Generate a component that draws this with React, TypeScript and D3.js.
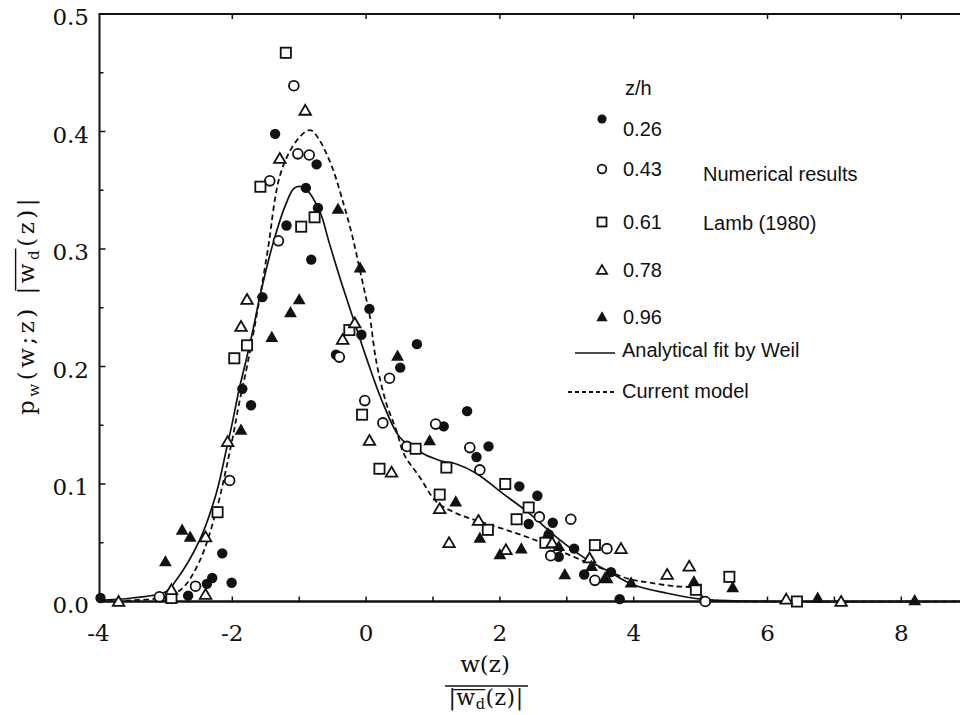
import React from "react";
import * as d3 from "d3";

// z/h levels of the numerical results (Lamb 1980)
const seriesNames = ["0.26", "0.43", "0.61", "0.78", "0.96"];

const zh026: [number, number][] = [
  [-3.97, 0.003], [-2.66, 0.005], [-2.38, 0.015], [-2.3, 0.02], [-2.15, 0.041], [-2.01, 0.016],
  [-1.85, 0.181], [-1.72, 0.167], [-1.55, 0.259], [-1.36, 0.398], [-1.19, 0.32], [-0.9, 0.352],
  [-0.82, 0.291], [-0.74, 0.372], [-0.72, 0.335], [-0.45, 0.21], [-0.07, 0.227], [0.05, 0.249],
  [0.51, 0.199], [0.76, 0.219], [1.16, 0.149], [1.51, 0.162], [1.65, 0.123], [1.83, 0.132],
  [2.29, 0.098], [2.43, 0.066], [2.56, 0.09], [2.73, 0.057], [2.79, 0.067], [2.88, 0.038],
  [3.11, 0.045], [3.26, 0.023], [3.66, 0.025], [3.79, 0.002],
];

const zh043: [number, number][] = [
  [-3.09, 0.004], [-2.55, 0.013], [-2.04, 0.103], [-1.44, 0.358], [-1.31, 0.307], [-1.08, 0.439],
  [-1.02, 0.381], [-0.85, 0.38], [-0.4, 0.208], [-0.02, 0.171], [0.25, 0.152], [0.35, 0.19],
  [0.61, 0.132], [1.04, 0.151], [1.55, 0.131], [1.7, 0.112], [2.59, 0.072], [2.76, 0.039],
  [3.06, 0.07], [3.42, 0.018], [3.6, 0.045], [5.07, 0.0],
];

const zh061: [number, number][] = [
  [-2.91, 0.003], [-2.22, 0.076], [-1.97, 0.207], [-1.78, 0.218], [-1.58, 0.353], [-1.2, 0.467],
  [-0.97, 0.319], [-0.77, 0.327], [-0.25, 0.231], [-0.06, 0.159], [0.2, 0.113], [0.74, 0.13],
  [1.1, 0.091], [1.2, 0.114], [1.82, 0.061], [2.08, 0.1], [2.25, 0.07], [2.43, 0.08],
  [2.68, 0.05], [3.42, 0.048], [4.93, 0.01], [5.43, 0.021], [6.44, 0.0],
];

const zh078: [number, number][] = [
  [-3.7, 0.0], [-2.91, 0.01], [-2.4, 0.006], [-2.4, 0.055], [-2.07, 0.136], [-1.87, 0.234],
  [-1.78, 0.257], [-1.29, 0.377], [-0.91, 0.418], [-0.35, 0.223], [-0.17, 0.237], [0.05, 0.137],
  [0.38, 0.11], [1.1, 0.079], [1.24, 0.05], [1.68, 0.069], [2.09, 0.044], [2.78, 0.05],
  [3.34, 0.037], [3.59, 0.02], [3.81, 0.045], [4.5, 0.023], [4.83, 0.03], [6.28, 0.002], [7.1, 0.0],
];

const zh096: [number, number][] = [
  [-3.0, 0.034], [-2.75, 0.061], [-2.63, 0.055], [-1.87, 0.146], [-1.41, 0.225], [-1.13, 0.246],
  [-1.0, 0.257], [-0.42, 0.334], [-0.09, 0.284], [0.47, 0.209], [0.95, 0.137], [1.34, 0.085],
  [1.7, 0.054], [2.0, 0.04], [2.32, 0.045], [2.72, 0.058], [2.88, 0.047], [2.97, 0.023],
  [3.37, 0.03], [3.57, 0.02], [3.96, 0.016], [4.9, 0.017], [5.48, 0.012], [6.75, 0.003], [8.2, 0.001],
];

// Analytical fit by Weil
const weilFit: [number, number][] = [
  [-4, 0.001], [-3.5, 0.003], [-3.0, 0.008], [-2.84, 0.018], [-2.49, 0.052], [-2.24, 0.092],
  [-2.09, 0.129], [-2.0, 0.152], [-1.9, 0.18], [-1.77, 0.211], [-1.68, 0.234], [-1.59, 0.259],
  [-1.39, 0.305], [-1.2, 0.338], [-1.07, 0.352], [-0.92, 0.352], [-0.7, 0.333], [-0.55, 0.305],
  [-0.35, 0.268], [-0.17, 0.237], [0.0, 0.208], [0.25, 0.169], [0.5, 0.14], [0.75, 0.129],
  [1.1, 0.12], [1.35, 0.117], [1.65, 0.109], [2.04, 0.092], [2.44, 0.075], [2.84, 0.055],
  [3.24, 0.038], [3.64, 0.025], [4.0, 0.014], [4.5, 0.007], [5.0, 0.002], [5.5, 0.0005],
  [6.0, 0.0], [8.9, 0.0],
];

// Current model
const currentModel: [number, number][] = [
  [-4, 0.0], [-3.5, 0.001], [-3.0, 0.004], [-2.75, 0.011], [-2.5, 0.033], [-2.25, 0.075],
  [-2.0, 0.138], [-1.9, 0.168], [-1.77, 0.203], [-1.6, 0.255], [-1.47, 0.299], [-1.29, 0.362],
  [-1.09, 0.388], [-0.9, 0.4], [-0.82, 0.401], [-0.7, 0.393], [-0.51, 0.37], [-0.33, 0.337],
  [-0.21, 0.312], [-0.1, 0.284], [0.0, 0.258], [0.05, 0.245], [0.15, 0.205], [0.3, 0.169],
  [0.45, 0.146], [0.57, 0.125], [0.8, 0.106], [1.05, 0.085], [1.35, 0.075], [1.7, 0.068],
  [2.09, 0.061], [2.54, 0.052], [2.94, 0.042], [3.44, 0.03], [3.94, 0.019], [4.24, 0.016],
  [4.6, 0.013], [4.93, 0.011], [5.05, 0.003], [5.2, 0.001], [6.0, 0.0], [8.9, 0.0],
];

const xTickValues = [-4, -2, 0, 2, 4, 6, 8];
const xTickLabels = ["-4", "-2", "0", "2", "4", "6", "8"];
const yTickValues = [0, 0.1, 0.2, 0.3, 0.4, 0.5];
const yTickLabels = ["0.0", "0.1", "0.2", "0.3", "0.4", "0.5"];
const legendHeading = "z/h";
const sourceNote = ["Numerical results", "Lamb (1980)"];
const curveNames = ["Analytical fit by Weil", "Current model"];

const SERIF = "'DejaVu Serif', serif";
const SANS = "'Liberation Sans', Arial, sans-serif";
const INK = "#111";

type Shape = "dot" | "ring" | "square" | "tri" | "triFill";
const shapes: Shape[] = ["dot", "ring", "square", "tri", "triFill"];
const seriesData = [zh026, zh043, zh061, zh078, zh096];

const W = 960;
const H = 715;
const x = d3.scaleLinear().domain([-4, 8.9]).range([98.5, 98.5 + 12.9 * 66.9]);
const y = d3.scaleLinear().domain([0, 0.5]).range([601.5, 14]);

let measureCtx: CanvasRenderingContext2D | null = null;
function textWidth(t: string, size: number, family: string) {
  if (!measureCtx) measureCtx = document.createElement("canvas").getContext("2d");
  if (!measureCtx) return t.length * size * 0.6;
  measureCtx.font = `${size}px ${family}`;
  return measureCtx.measureText(t).width;
}

type Run = { t: string; sub?: boolean; over?: boolean };

// A line of math-like text: runs with subscripts and an overline that starts at a bar
function RichText({ runs, cx, cy, rotate = 0, size, spacing = 0, overAt = 0.8 }: {
  runs: Run[]; cx: number; cy: number; rotate?: number; size: number; spacing?: number; overAt?: number;
}) {
  const subSize = size * 0.66;
  let pos = 0;
  const placed = runs.map((r) => {
    const s = r.sub ? subSize : size;
    const w = textWidth(r.t, s, SERIF) + spacing * r.t.length;
    const item = { ...r, s, x0: pos, w };
    pos += w;
    return item;
  });
  const total = pos;
  const overs = placed.filter((p) => p.over);
  let overline: React.ReactNode = null;
  if (overs.length) {
    const first = overs[0];
    const idx = placed.indexOf(first);
    const bar = idx > 0 ? placed[idx - 1] : first;
    const x1 = bar.x0 + (bar.w - spacing) * 0.5 - total / 2;
    const last = overs[overs.length - 1];
    const x2 = last.x0 + last.w - spacing * 0.5 - total / 2;
    overline = (
      <line x1={x1} x2={x2} y1={-size * overAt} y2={-size * overAt} stroke={INK} strokeWidth={1.4} />
    );
  }
  return (
    <g transform={`translate(${cx},${cy}) rotate(${rotate})`}>
      {placed.map((p, i) => (
        <text
          key={i}
          x={p.x0 - total / 2}
          y={p.sub ? size * 0.2 : 0}
          fontFamily={SERIF}
          fontSize={p.s}
          letterSpacing={spacing}
          fill={INK}
          style={{ whiteSpace: "pre" }}
        >
          {p.t}
        </text>
      ))}
      {overline}
    </g>
  );
}

function Marker({ shape, cx, cy, s = 1 }: { shape: Shape; cx: number; cy: number; s?: number }) {
  const sw = 1.8;
  switch (shape) {
    case "dot":
      return <circle cx={cx} cy={cy} r={5.2 * s} fill={INK} />;
    case "ring":
      return <circle cx={cx} cy={cy} r={4.9 * s} fill="white" stroke={INK} strokeWidth={sw} />;
    case "square": {
      const h = 5.1 * s;
      return <rect x={cx - h} y={cy - h} width={2 * h} height={2 * h} fill="white" stroke={INK} strokeWidth={sw} />;
    }
    case "tri": {
      const h = 5.5 * s;
      return (
        <polygon
          points={`${cx},${cy - h} ${cx + h * 1.05},${cy + h * 0.8} ${cx - h * 1.05},${cy + h * 0.8}`}
          fill="white" stroke={INK} strokeWidth={sw} strokeLinejoin="miter"
        />
      );
    }
    case "triFill": {
      const h = 6.4 * s;
      return (
        <polygon
          points={`${cx},${cy - h} ${cx + h},${cy + h * 0.75} ${cx - h},${cy + h * 0.75}`}
          fill={INK}
        />
      );
    }
  }
  return null;
}

export default function App() {
  const line = d3
    .line<[number, number]>()
    .x((d) => x(d[0]))
    .y((d) => y(d[1]))
    .curve(d3.curveCatmullRom.alpha(0.5));

  const x0 = x(-4) + 1;
  const yBase = y(0);
  const yTop = y(0.5);
  const minorY = d3.range(0.05, 0.5, 0.05);
  const minorX = d3.range(-3, 9, 1);
  const topX = [-2, 0, 2, 4, 6, 8];

  const legendRowsY = [119, 169, 222, 270, 317];
  const legendTextY = [136, 176, 229, 277, 324];

  return (
    <svg
      width={W}
      height={H}
      viewBox={`0 0 ${W} ${H}`}
      style={{ position: "absolute", left: 0, top: 0, background: "white" }}
    >
      <rect x={0} y={0} width={W} height={H} fill="white" />

      {/* curves */}
      <path d={line(weilFit) ?? ""} fill="none" stroke={INK} strokeWidth={1.7} />
      <path d={line(currentModel) ?? ""} fill="none" stroke={INK} strokeWidth={1.8} strokeDasharray="5.5,3.5" />

      {/* frame */}
      <line x1={x0} x2={x0} y1={yTop} y2={yBase + 1} stroke={INK} strokeWidth={2} />
      <line x1={x0 - 1} x2={W} y1={yTop} y2={yTop} stroke={INK} strokeWidth={2} />
      <line x1={x0 - 1} x2={W} y1={yBase} y2={yBase} stroke={INK} strokeWidth={2.4} />

      {/* y ticks */}
      {minorY.map((v, i) => (
        <line key={`yt${i}`} x1={x0} x2={x0 + (i % 2 === 1 ? 6 : 4)} y1={y(v)} y2={y(v)} stroke={INK} strokeWidth={1.5} />
      ))}
      {/* x ticks */}
      {minorX.map((v) => (
        <line key={`xt${v}`} x1={x(v)} x2={x(v)} y1={yBase} y2={yBase - 5} stroke={INK} strokeWidth={1.5} />
      ))}
      {topX.map((v) => (
        <line key={`tt${v}`} x1={x(v)} x2={x(v)} y1={yTop} y2={yTop + 5} stroke={INK} strokeWidth={1.5} />
      ))}

      {/* tick labels */}
      {yTickValues.map((v, i) => (
        <text key={`yl${i}`} x={89} y={y(v) + 11} textAnchor="end" fontFamily={SERIF} fontSize={23} fill={INK}>
          {yTickLabels[i]}
        </text>
      ))}
      {xTickValues.map((v, i) => (
        <text key={`xl${i}`} x={x(v)} y={641} textAnchor="middle" fontFamily={SERIF} fontSize={23} fill={INK}>
          {xTickLabels[i]}
        </text>
      ))}

      {/* data points */}
      {seriesData.map((pts, si) =>
        pts.map((d, j) => <Marker key={`m${si}-${j}`} shape={shapes[si]} cx={x(d[0])} cy={y(d[1])} />)
      )}

      {/* legend */}
      <text x={625} y={95} fontFamily={SANS} fontSize={20} fill={INK}>{legendHeading}</text>
      {seriesNames.map((name, i) => (
        <g key={`lg${i}`}>
          <Marker shape={shapes[i]} cx={602} cy={legendRowsY[i]} s={0.88} />
          <text x={623} y={legendTextY[i]} fontFamily={SANS} fontSize={20} fill={INK}>{name}</text>
        </g>
      ))}
      <text x={703} y={181} fontFamily={SANS} fontSize={20} fill={INK}>{sourceNote[0]}</text>
      <text x={703} y={230} fontFamily={SANS} fontSize={20} fill={INK}>{sourceNote[1]}</text>
      <line x1={575} x2={615} y1={353} y2={353} stroke={INK} strokeWidth={1.7} />
      <text x={622} y={357} fontFamily={SANS} fontSize={20} fill={INK}>{curveNames[0]}</text>
      <line x1={568} x2={615} y1={392} y2={392} stroke={INK} strokeWidth={1.8} strokeDasharray="4,3" />
      <text x={622} y={398} fontFamily={SANS} fontSize={20} fill={INK}>{curveNames[1]}</text>

      {/* x-axis title: w(z) / |w_d(z)| */}
      <RichText runs={[{ t: "w(z)" }]} cx={485} cy={672} size={23} />
      <line x1={445} x2={528} y1={686} y2={686} stroke={INK} strokeWidth={1.5} />
      <RichText
        runs={[{ t: "|" }, { t: "w", over: true }, { t: "d", sub: true, over: true }, { t: "(z)|" }]}
        cx={486} cy={705} size={22} spacing={0.5} overAt={0.7}
      />

      {/* y-axis title: p_w(w;z) |w_d(z)| */}
      <RichText
        runs={[
          { t: "p" }, { t: "w", sub: true }, { t: "(w;z) " }, { t: "|" },
          { t: "w", over: true }, { t: "d", sub: true, over: true }, { t: "(z)|" },
        ]}
        cx={34} cy={305} rotate={-90} size={23} spacing={3.5}
      />
    </svg>
  );
}
